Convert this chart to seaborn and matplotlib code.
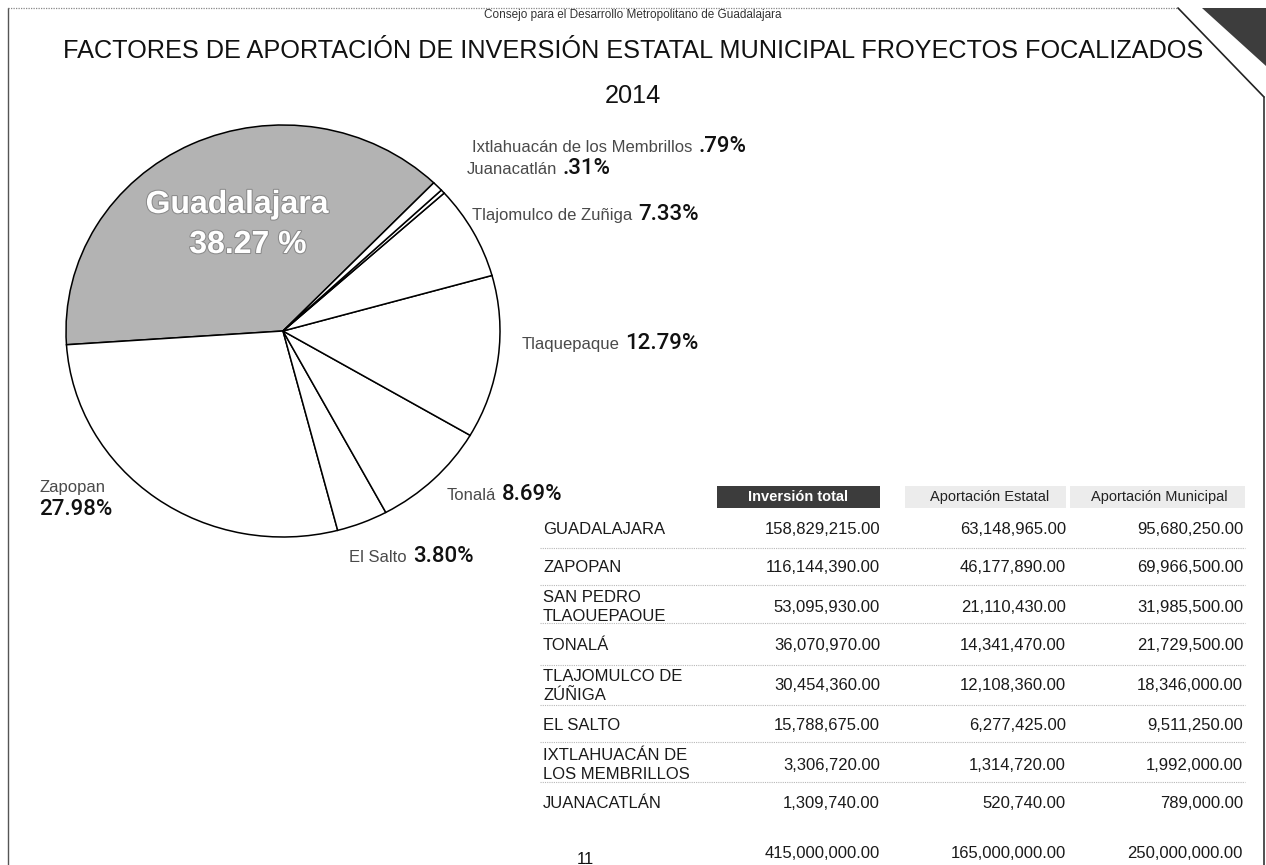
# Factores de aportación de inversión - pie + table page

import matplotlib
matplotlib.use("Agg")
import matplotlib.pyplot as plt
import matplotlib.patheffects as pe
from matplotlib.patches import Rectangle, Polygon
from matplotlib.lines import Line2D
from matplotlib.transforms import Bbox
import seaborn as sns

# pie data (in drawing order)
pie_names = ["Guadalajara", "Zapopan", "El Salto", "Tonalá", "Tlaquepaque",
             "Tlajomulco de Zuñiga", "Juanacatlán", "Ixtlahuacán de los Membrillos"]
pie_pct = [38.27, 27.98, 3.80, 8.69, 12.79, 7.33, 0.31, 0.79]

# table data
table_rows = ["GUADALAJARA", "ZAPOPAN", "SAN PEDRO\nTLAQUEPAQUE", "TONALÁ",
              "TLAJOMULCO DE\nZÚÑIGA", "EL SALTO", "IXTLAHUACÁN DE\nLOS MEMBRILLOS",
              "JUANACATLÁN"]
table_cols = ["Inversión total", "Aportación Estatal", "Aportación Municipal"]
inversion_total = [158829215, 116144390, 53095930, 36070970, 30454360, 15788675, 3306720, 1309740]
aportacion_estatal = [63148965, 46177890, 21110430, 14341470, 12108360, 6277425, 1314720, 520740]
aportacion_municipal = [95680250, 69966500, 31985500, 21729500, 18346000, 9511250, 1992000, 789000]

W, H = 1266, 865


def fx(x):
    return x / W


def fy(y):
    return 1 - y / H


def pct_txt(p):
    return f"{p:.2f}%".lstrip("0")


sns.set_theme(style="white")
plt.rcParams["font.family"] = ["Liberation Sans", "DejaVu Sans"]

fig = plt.figure(figsize=(W / 100, H / 100), dpi=100)
fig.patch.set_facecolor("white")

# page frame
fig.add_artist(Line2D([fx(8), fx(8)], [fy(8), fy(865)], color="#555555", lw=1.0))
fig.add_artist(Line2D([fx(8), fx(1178)], [fy(8), fy(8)], color="#888888", lw=0.9, ls=(0, (1, 1))))
fig.add_artist(Line2D([fx(1178), fx(1264)], [fy(8), fy(97)], color="#222222", lw=1.2))
fig.add_artist(Line2D([fx(1264), fx(1264)], [fy(97), fy(865)], color="#333333", lw=1.2))
fig.add_artist(Polygon([[fx(1202), fy(8)], [fx(1266), fy(8)], [fx(1266), fy(66)]],
                       closed=True, transform=fig.transFigure, facecolor="#3d3d3d", edgecolor="none"))

# titles
fig.text(fx(633), fy(15), "Consejo para el Desarrollo Metropolitano de Guadalajara",
         ha="center", va="center", fontsize=8.5, color="#333333")
fig.text(fx(633), fy(51), "FACTORES DE APORTACIÓN DE INVERSIÓN ESTATAL MUNICIPAL FROYECTOS FOCALIZADOS",
         ha="center", va="center", fontsize=18.2, color="#111111")
fig.text(fx(633), fy(96), "2014", ha="center", va="center", fontsize=18.2, color="#111111")

# pie
ax = fig.add_axes([fx(66), fy(537), (500 - 66) / W, (537 - 125) / H])
pie_colors = sns.color_palette(["#b3b3b3"] + ["#ffffff"] * 7)
wedges, _ = ax.pie(pie_pct, startangle=46, counterclock=True, colors=pie_colors,
                   wedgeprops=dict(edgecolor="black", linewidth=1.1))
ax.set_aspect("auto")
ax.set_xlim(-1, 1)
ax.set_ylim(-1, 1)
ax.axis("off")
for w in wedges:
    w.set_clip_on(False)

# pie labels: (x of percent, baseline y)
label_pos = {
    "Ixtlahuacán de los Membrillos": (698, 152),
    "Juanacatlán": (563, 174),
    "Tlajomulco de Zuñiga": (638, 220),
    "Tlaquepaque": (625, 349),
    "Tonalá": (502, 500),
    "El Salto": (413, 562),
}
pct_font = dict(fontsize=16, color="#111111", family=["Roboto", "Liberation Sans"], fontweight="medium")
name_font = dict(fontsize=12, color="#4a4a4a")
for name, p in zip(pie_names, pie_pct):
    if name in label_pos:
        x, y = label_pos[name]
        fig.text(fx(x), fy(y), pct_txt(p), ha="left", va="baseline", **pct_font)
        fig.text(fx(x - 6), fy(y), name, ha="right", va="baseline", **name_font)

fig.text(fx(40), fy(492), pie_names[1], ha="left", va="baseline", **name_font)
fig.text(fx(39), fy(515), pct_txt(pie_pct[1]), ha="left", va="baseline", **pct_font)

halo = [pe.withStroke(linewidth=1.5, foreground="#8a8a8a")]
fig.text(fx(237), fy(205), pie_names[0], ha="center", va="center", fontsize=23,
         color="white", fontweight="bold", path_effects=halo)
fig.text(fx(248), fy(245), f"{pie_pct[0]:.2f} %", ha="center", va="center", fontsize=23,
         color="white", fontweight="bold", path_effects=halo)

# table header
fig.add_artist(Rectangle((fx(717), fy(508)), (880 - 717) / W, 22 / H, transform=fig.transFigure,
                         facecolor="#3c3c3c", edgecolor="none"))
fig.add_artist(Rectangle((fx(905), fy(508)), (1066 - 905) / W, 22 / H, transform=fig.transFigure,
                         facecolor="#ececec", edgecolor="none"))
fig.add_artist(Rectangle((fx(1070), fy(508)), (1245 - 1070) / W, 22 / H, transform=fig.transFigure,
                         facecolor="#ececec", edgecolor="none"))
fig.text(fx(798), fy(497), table_cols[0], ha="center", va="center", fontsize=10.5,
         color="white", fontweight="bold")
fig.text(fx(990), fy(497), table_cols[1], ha="center", va="center", fontsize=10.5, color="#222222")
fig.text(fx(1159), fy(497), table_cols[2], ha="center", va="center", fontsize=10.5, color="#222222")

# table body
row_y = [530, 567, 607, 646, 686, 725, 765, 804]
sep_y = [548, 585, 623, 665, 705, 742, 782]
col_right = [880, 1066, 1243]
cell_font = dict(fontsize=12, color="#1a1a1a")
for i, name in enumerate(table_rows):
    t = fig.text(fx(543), fy(row_y[i]), name, ha="left", va="center", linespacing=1.4, **cell_font)
    if "\n" in name:
        # the second line is cut off in the original layout
        t.set_clip_box(Bbox.from_extents(0, H - (row_y[i] + 14), W, H))
        t.set_clip_on(True)
    for j, vals in enumerate([inversion_total, aportacion_estatal, aportacion_municipal]):
        fig.text(fx(col_right[j]), fy(row_y[i]), f"{vals[i]:,.2f}", ha="right", va="center", **cell_font)
for y in sep_y:
    fig.add_artist(Line2D([fx(540), fx(1245)], [fy(y), fy(y)], color="#b8b8b8", lw=0.8, ls=(0, (1, 1))))

totals = [sum(inversion_total), sum(aportacion_estatal), sum(aportacion_municipal)]
for j, v in enumerate(totals):
    fig.text(fx(col_right[j]), fy(853), f"{v:,.2f}", ha="right", va="center", **cell_font)

fig.text(fx(585), fy(860), "11", ha="center", va="center", fontsize=12, color="#111111")

fig.savefig("out.png", dpi=100, facecolor="white")
